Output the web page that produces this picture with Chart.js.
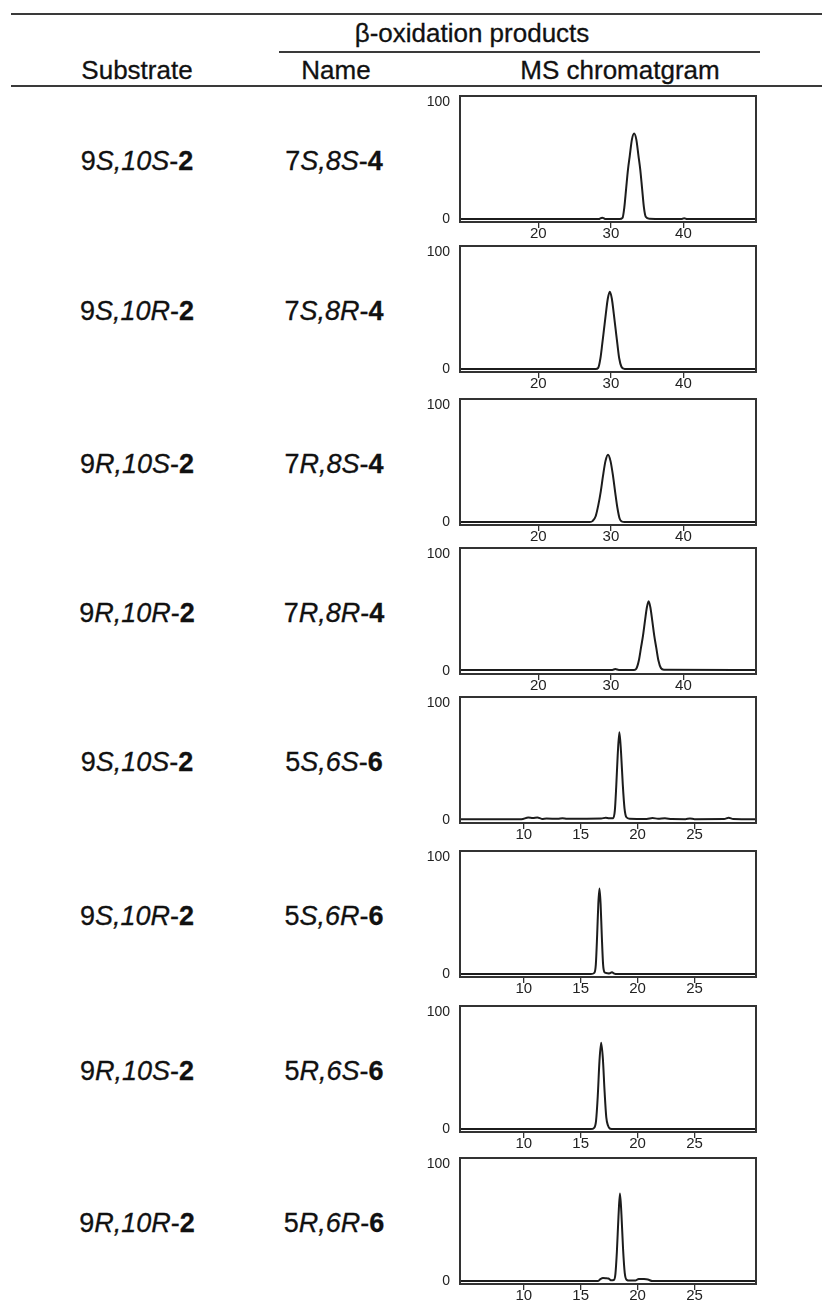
<!DOCTYPE html>
<html>
<head>
<meta charset="utf-8">
<title>β-oxidation products</title>
<script src="https://cdn.jsdelivr.net/npm/chart.js@4.4.1/dist/chart.umd.min.js"></script>
<style>
  html, body { margin: 0; padding: 0; background: #fff; }
  #page { position: relative; width: 822px; height: 1311px; overflow: hidden;
          font-family: 'Liberation Sans', Arial, Helvetica, sans-serif; color: #111; }
  .rule { position: absolute; height: 2px; background: #3a3a3a; }
  .hd { position: absolute; font-size: 26px; line-height: 26px; white-space: nowrap; transform: translateX(-50%);
        -webkit-text-stroke: 0.3px #111; }
  .lbl { position: absolute; font-size: 27px; line-height: 27px; white-space: nowrap; transform: translateX(-50%);
         -webkit-text-stroke: 0.3px #111; }
  .lbl i { font-style: italic; }
  .lbl b { font-weight: bold; }
  canvas.panel { position: absolute; left: 400px; }
</style>
</head>
<body>
<div id="page">
  <div class="rule" style="left:11px; width:811px; top:13px;"></div>
  <div class="hd" style="left:472px; top:20px;">β-oxidation products</div>
  <div class="rule" style="left:279px; width:481px; top:51px;"></div>
  <div class="hd" style="left:137px; top:57px;">Substrate</div>
  <div class="hd" style="left:336px; top:57px;">Name</div>
  <div class="hd" style="left:620px; top:57px;">MS chromatgram</div>
  <div class="rule" style="left:11px; width:811px; top:85px;"></div>
</div>
<script>
// Table rows: substrate and its β-oxidation product
const substrates = ['9S,10S-2', '9S,10R-2', '9R,10S-2', '9R,10R-2',
                    '9S,10S-2', '9S,10R-2', '9R,10S-2', '9R,10R-2'];
const products   = ['7S,8S-4', '7S,8R-4', '7R,8S-4', '7R,8R-4',
                    '5S,6S-6', '5S,6R-6', '5R,6S-6', '5R,6R-6'];

// Retention-time axes (min) and tick labels
const rangeC4 = [9.2, 50];
const rangeC6 = [4.4, 30.4];
const ticksC4 = [20, 30, 40];
const ticksC6 = [10, 15, 20, 25];
const yTicks  = [0, 100];

// Chromatogram traces: retention time (min) and relative intensity (%)
const rt_7S8S = [9.2, 28.3, 28.8, 29.3, 31.2, 31.6, 31.85, 32.1, 32.35, 32.6, 32.9, 33.2, 33.5, 33.8, 34.05, 34.3, 34.55, 34.8, 35.3, 39.7, 40.1, 40.5, 50];
const ab_7S8S = [0, 0, 1.2, 0, 0, 1, 10, 26, 42, 54, 68, 73, 68, 54, 42, 26, 10, 2, 0.3, 0, 0.8, 0, 0];

const rt_7S8R = [9.2, 27.9, 28.25, 28.55, 28.8, 29.05, 29.3, 29.57, 29.85, 30.13, 30.4, 30.65, 30.9, 31.15, 31.45, 31.9, 50];
const ab_7S8R = [0, 0, 1, 9, 21, 34, 47, 60, 66, 60, 47, 34, 21, 9, 2, 0, 0];

const rt_7R8S = [9.2, 27.1, 27.5, 27.9, 28.25, 28.6, 28.9, 29.25, 29.6, 29.95, 30.3, 30.6, 30.9, 31.2, 31.5, 31.9, 50];
const ab_7R8S = [0, 0, 1, 5, 14, 26, 39, 52, 57.5, 52, 39, 25, 12, 3, 0.5, 0, 0];

const rt_7R8R = [9.2, 30.2, 30.6, 31.1, 33.2, 33.5, 33.85, 34.15, 34.42, 34.7, 34.95, 35.2, 35.45, 35.7, 35.98, 36.25, 36.55, 36.9, 37.3, 50];
const ab_7R8R = [1, 1, 1.7, 1, 1, 2, 9, 20, 30, 43, 54, 59.5, 54, 43, 30, 20, 9, 2.5, 1.2, 1];

const rt_5S6S = [4.4, 9.8, 10.4, 10.8, 11.2, 11.6, 12.0, 13.0, 13.4, 13.8, 16.8, 17.2, 17.5, 17.85, 18.0, 18.12, 18.25, 18.4, 18.55, 18.7, 18.85, 19.02, 19.3, 20.8, 21.3, 21.8, 22.4, 23.0, 24.2, 24.6, 25.0, 27.6, 28.0, 28.4, 30.4];
const ab_5S6S = [0.6, 0.7, 2.2, 1.8, 2.2, 1.0, 1.3, 1.1, 1.6, 1.1, 1.3, 2.0, 1.5, 1.6, 8, 28, 55, 75, 57, 30, 10, 2.4, 1.2, 1.0, 1.8, 1.1, 1.5, 0.9, 0.8, 1.3, 0.8, 0.9, 2.0, 1.0, 0.8];

const rt_5S6R = [4.4, 15.9, 16.2, 16.33, 16.45, 16.55, 16.65, 16.75, 16.85, 16.97, 17.1, 17.3, 17.5, 17.75, 17.95, 18.2, 30.4];
const ab_5S6R = [0, 0, 1, 8, 34, 60, 73, 60, 34, 8, 1.5, 0.8, 0.5, 1.6, 0.4, 0, 0];

const rt_5R6S = [4.4, 15.9, 16.18, 16.35, 16.5, 16.65, 16.8, 16.95, 17.1, 17.25, 17.4, 17.55, 17.9, 30.4];
const ab_5R6S = [0, 0, 1, 7, 28, 58, 73.7, 60, 32, 10, 3, 0.5, 0, 0];

const rt_5R6R = [4.4, 16.5, 16.75, 16.95, 17.2, 17.45, 17.7, 17.92, 18.05, 18.18, 18.32, 18.45, 18.58, 18.72, 18.87, 19.04, 19.3, 19.8, 20.1, 20.5, 20.9, 21.3, 30.4];
const ab_5R6R = [0, 0, 1.8, 2.6, 2.5, 2.2, 0.6, 1, 6, 25, 55, 74.7, 57, 28, 7, 1, 0.4, 0.5, 1.8, 1.7, 1.3, 0, 0];

const traces = [
  [rt_7S8S, ab_7S8S], [rt_7S8R, ab_7S8R], [rt_7R8S, ab_7R8S], [rt_7R8R, ab_7R8R],
  [rt_5S6S, ab_5S6S], [rt_5S6R, ab_5S6R], [rt_5R6S, ab_5R6S], [rt_5R6R, ab_5R6R]
];

// Page layout: top edge of each chromatogram frame
const panelTop = [96, 246, 399, 548, 697, 851, 1006, 1158];
const FONT = "'Liberation Sans', Arial, Helvetica, sans-serif";

// "9S,10R-2" -> 9<i>S,10R</i>-<b>2</b>
function formatCompound(name) {
  const m = name.match(/^(\d+)([SR],\d+[SR])-(\d+)$/);
  return m ? `${m[1]}<i>${m[2]}</i>-<b>${m[3]}</b>` : name;
}

// Closed frame around the plot area
const framePlugin = {
  id: 'frame',
  afterDatasetsDraw(chart) {
    const { ctx, chartArea: a } = chart;
    ctx.save();
    ctx.strokeStyle = '#333';
    ctx.lineWidth = 2;
    ctx.strokeRect(a.left, a.top, a.right - a.left, a.bottom - a.top);
    ctx.restore();
  }
};

const page = document.getElementById('page');

traces.forEach(([rt, ab], i) => {
  const top = panelTop[i];
  const isC4 = i < 4;
  const range = isC4 ? rangeC4 : rangeC6;
  const xt = isC4 ? ticksC4 : ticksC6;

  const sub = document.createElement('div');
  sub.className = 'lbl';
  sub.style.left = '137px';
  sub.style.top = (top + 52) + 'px';
  sub.innerHTML = formatCompound(substrates[i]);
  page.appendChild(sub);

  const prod = document.createElement('div');
  prod.className = 'lbl';
  prod.style.left = '334px';
  prod.style.top = (top + 52) + 'px';
  prod.innerHTML = formatCompound(products[i]);
  page.appendChild(prod);

  const cv = document.createElement('canvas');
  cv.className = 'panel';
  cv.width = 370;
  cv.height = 160;
  cv.style.top = (top - 8) + 'px';
  page.appendChild(cv);

  new Chart(cv, {
    type: 'line',
    data: {
      datasets: [{
        data: rt.map((t, k) => ({ x: t, y: ab[k] })),
        borderColor: '#1c1c1c',
        borderWidth: 2,
        pointRadius: 0,
        cubicInterpolationMode: 'monotone',
        fill: false
      }]
    },
    options: {
      responsive: false,
      animation: false,
      events: [],
      layout: { padding: { top: 8, right: 14, left: 0, bottom: 0 } },
      plugins: { legend: { display: false }, tooltip: { enabled: false } },
      scales: {
        x: {
          type: 'linear',
          min: range[0],
          max: range[1],
          afterBuildTicks: s => { s.ticks = xt.map(v => ({ value: v })); },
          afterFit: s => { s.height = 26; s.paddingLeft = 0; s.paddingRight = 0; },
          grid: { drawOnChartArea: false, drawTicks: true, tickLength: 6, color: '#333', lineWidth: 1.3 },
          border: { display: false },
          ticks: { padding: -3, color: '#222', maxRotation: 0, font: { size: 15, family: FONT } }
        },
        y: {
          min: -2.5,
          max: 105,
          afterBuildTicks: s => { s.ticks = yTicks.map(v => ({ value: v })); },
          afterFit: s => { s.width = 60; s.paddingTop = 0; s.paddingBottom = 0; },
          grid: { display: false, drawTicks: false },
          border: { display: false },
          ticks: { padding: 10, color: '#222', font: { size: 14, family: FONT } }
        }
      }
    },
    plugins: [framePlugin]
  });
});
</script>
</body>
</html>
